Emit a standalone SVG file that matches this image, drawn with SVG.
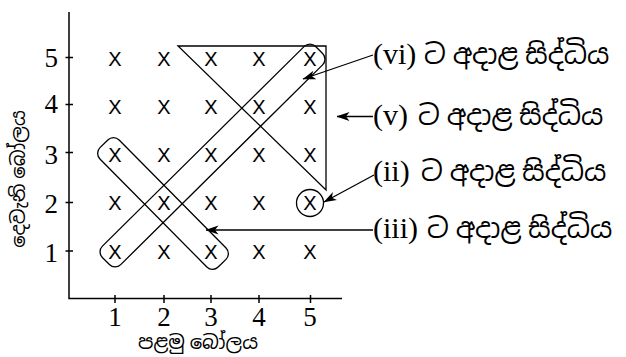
<svg xmlns="http://www.w3.org/2000/svg" width="626" height="357" viewBox="0 0 626 357">
<style>
.ln{fill:none;stroke:#000;stroke-width:1.3}
.ax{fill:none;stroke:#000;stroke-width:1.5}
.mk{font-family:"Liberation Sans",Arial,sans-serif;font-size:20px;text-anchor:middle;fill:#000}
.num{font-family:"Liberation Serif","Times New Roman",serif;font-size:27px;fill:#000}
.lbl{font-family:"Liberation Serif","Noto Sans Sinhala","Noto Serif Sinhala","Iskoola Pota",serif;font-size:30px;fill:#000}
.si{font-size:27.5px}
.axl{font-family:"Liberation Serif","Noto Sans Sinhala","Noto Serif Sinhala","Iskoola Pota",serif;font-size:19.5px;fill:#000;text-anchor:middle}
</style>
<defs>
<marker id="ah" markerUnits="userSpaceOnUse" markerWidth="13" markerHeight="10" viewBox="0 0 13 10" refX="12.5" refY="5" orient="auto">
<path d="M0,0.5 L13,5 L0,9.5 L3.5,5 Z" fill="#000"/>
</marker>
</defs>
<rect width="626" height="357" fill="#fff"/>
<g id="axes">
<path class="ax" d="M69,12 V298.5 H342"/>
<path class="ax" d="M65.5,57.5 H73 M65.5,104.5 H73 M65.5,152.5 H73 M65.5,202.5 H73 M65.5,251 H73"/>
<path class="ax" d="M115,295 V303 M164,295 V303 M211,295 V303 M259,295 V303 M310.5,295 V303"/>
<text class="num" text-anchor="end" x="58" y="66.5">5</text>
<text class="num" text-anchor="end" x="58" y="113">4</text>
<text class="num" text-anchor="end" x="58" y="163.5">3</text>
<text class="num" text-anchor="end" x="58" y="212.5">2</text>
<text class="num" text-anchor="end" x="58" y="261.5">1</text>
<text class="num" text-anchor="middle" x="115" y="325.5">1</text>
<text class="num" text-anchor="middle" x="164" y="325.5">2</text>
<text class="num" text-anchor="middle" x="211" y="325.5">3</text>
<text class="num" text-anchor="middle" x="259" y="325.5">4</text>
<text class="num" text-anchor="middle" x="310" y="325.5">5</text>
<text class="axl" x="198" y="349">පළමු බෝලය</text>
<text class="axl" transform="translate(25,179) rotate(-90)" x="0" y="0">දෙවැනි බෝලය</text>
</g>
<g id="marks">
<text class="mk" x="115" y="66">X</text><text class="mk" x="164" y="66">X</text><text class="mk" x="211" y="66">X</text><text class="mk" x="259" y="66">X</text><text class="mk" x="310" y="66">X</text>
<text class="mk" x="115" y="114">X</text><text class="mk" x="164" y="114">X</text><text class="mk" x="211" y="114">X</text><text class="mk" x="259" y="114">X</text><text class="mk" x="310" y="114">X</text>
<text class="mk" x="115" y="162">X</text><text class="mk" x="164" y="162">X</text><text class="mk" x="211" y="162">X</text><text class="mk" x="259" y="162">X</text><text class="mk" x="310" y="162">X</text>
<text class="mk" x="115" y="210">X</text><text class="mk" x="164" y="210">X</text><text class="mk" x="211" y="210">X</text><text class="mk" x="259" y="210">X</text><text class="mk" x="310" y="210">X</text>
<text class="mk" x="115" y="259">X</text><text class="mk" x="164" y="259">X</text><text class="mk" x="211" y="259">X</text><text class="mk" x="259" y="259">X</text><text class="mk" x="310" y="259">X</text>
</g>
<g id="outcome-vi">
<rect class="ln" x="-150" y="-13" width="300" height="26" rx="8" transform="translate(212.5,155.5) rotate(-44.7)"/>
</g>
<g id="outcome-v">
<path class="ln" d="M178,46 H326 V190 Z"/>
</g>
<g id="outcome-ii">
<circle class="ln" cx="310" cy="203" r="13.5"/>
</g>
<g id="outcome-iii">
<rect class="ln" x="-84" y="-13.5" width="168" height="27" rx="8" transform="translate(163,203.5) rotate(45.3)"/>
</g>
<g id="connectors">
<path class="ln" d="M373,55 L303,79" marker-end="url(#ah)"/>
<path class="ln" d="M373,116.5 L337,116.5" marker-end="url(#ah)"/>
<path class="ln" d="M374,175 L324,202" marker-end="url(#ah)"/>
<path class="ln" d="M373,230 L206,230" marker-end="url(#ah)"/>
</g>
<g id="labels">
<text class="lbl" x="373" y="64">(vi) <tspan class="si" x="424">ට අදාළ සිද්ධිය</tspan></text>
<text class="lbl" x="373" y="125">(v) <tspan class="si" x="418">ට අදාළ සිද්ධිය</tspan></text>
<text class="lbl" x="373" y="181">(ii) <tspan class="si" x="421">ට අදාළ සිද්ධිය</tspan></text>
<text class="lbl" x="373" y="238">(iii) <tspan class="si" x="427">ට අදාළ සිද්ධිය</tspan></text>
</g>
</svg>
